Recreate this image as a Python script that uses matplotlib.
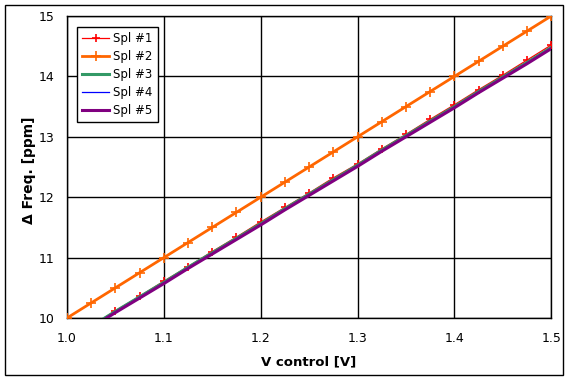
import matplotlib
matplotlib.use("Agg")
import matplotlib.pyplot as plt
import matplotlib.patches as mpatches

# control voltage [V]
v_ctrl = [1.000, 1.025, 1.050, 1.075, 1.100, 1.125, 1.150, 1.175, 1.200, 1.225,
          1.250, 1.275, 1.300, 1.325, 1.350, 1.375, 1.400, 1.425, 1.450, 1.475, 1.500]

# delta frequency [ppm] per sample
spl1 = [9.63, 9.87, 10.12, 10.36, 10.61, 10.85, 11.10, 11.34, 11.59, 11.83,
        12.07, 12.32, 12.55, 12.80, 13.04, 13.29, 13.53, 13.78, 14.02, 14.27, 14.52]
spl2 = [10.00, 10.25, 10.50, 10.75, 11.00, 11.25, 11.50, 11.75, 12.00, 12.25,
        12.50, 12.75, 13.00, 13.25, 13.50, 13.75, 14.00, 14.25, 14.50, 14.75, 15.00]
spl3 = [9.62, 9.86, 10.11, 10.35, 10.59, 10.84, 11.08, 11.32, 11.56, 11.81,
        12.05, 12.29, 12.53, 12.78, 13.02, 13.26, 13.50, 13.75, 13.99, 14.23, 14.48]
spl4 = [9.61, 9.85, 10.10, 10.34, 10.58, 10.83, 11.07, 11.31, 11.55, 11.80,
        12.04, 12.28, 12.52, 12.77, 13.01, 13.25, 13.49, 13.74, 13.98, 14.22, 14.47]
spl5 = [9.60, 9.84, 10.09, 10.33, 10.57, 10.82, 11.06, 11.30, 11.54, 11.79,
        12.03, 12.27, 12.51, 12.76, 13.00, 13.24, 13.48, 13.73, 13.97, 14.21, 14.46]

x_ticks = [1.0, 1.1, 1.2, 1.3, 1.4, 1.5]
y_ticks = [10, 11, 12, 13, 14, 15]

fig = plt.figure(figsize=(5.71, 3.82), dpi=100)
ax = fig.add_axes([0.1173, 0.1675, 0.848, 0.7905])

# outer chart border
fig.patches.append(mpatches.Rectangle((5 / 571, 7 / 382), 558 / 571, 370 / 382,
                                      transform=fig.transFigure, fill=False,
                                      edgecolor='black', linewidth=1))

ax.plot(v_ctrl, spl1, color='#FF0000', lw=0.9, marker='+', ms=6, mew=1.2, label='Spl #1', zorder=3)
ax.plot(v_ctrl, spl2, color='#FF6600', lw=2.0, marker='+', ms=7, mew=1.2, label='Spl #2', zorder=3)
ax.plot(v_ctrl, spl3, color='#339966', lw=2.2, label='Spl #3', zorder=3)
ax.plot(v_ctrl, spl4, color='#0000FF', lw=0.9, label='Spl #4', zorder=3)
ax.plot(v_ctrl, spl5, color='#800080', lw=2.2, label='Spl #5', zorder=3)

ax.set_xlim(1.0, 1.5)
ax.set_ylim(10, 15)
ax.set_xticks(x_ticks)
ax.set_xticklabels(['%.1f' % t for t in x_ticks])
ax.set_yticks(y_ticks)
ax.tick_params(axis='x', length=0, labelsize=9, pad=10)
ax.tick_params(axis='y', length=0, labelsize=9, pad=9)
ax.grid(color='black', linewidth=1, zorder=0)
for s in ax.spines.values():
    s.set_color('black')
    s.set_linewidth(1)

ax.set_xlabel('V control [V]', fontsize=9.5, fontweight='bold', va='center')
ax.set_ylabel('Δ Freq. [ppm]', fontsize=10, fontweight='bold', va='center')
ax.xaxis.set_label_coords(0.499, -0.146)
ax.yaxis.set_label_coords(-0.079, 0.49)

leg = ax.legend(loc='upper left', bbox_to_anchor=(0.0207, 0.9636), borderaxespad=0,
                fontsize=8.5, frameon=True, fancybox=False, edgecolor='black',
                framealpha=1, handlelength=2.3, labelspacing=0.42, borderpad=0.45,
                handletextpad=0.3)
leg.get_frame().set_linewidth(1)

fig.savefig('out.png', dpi=100)
